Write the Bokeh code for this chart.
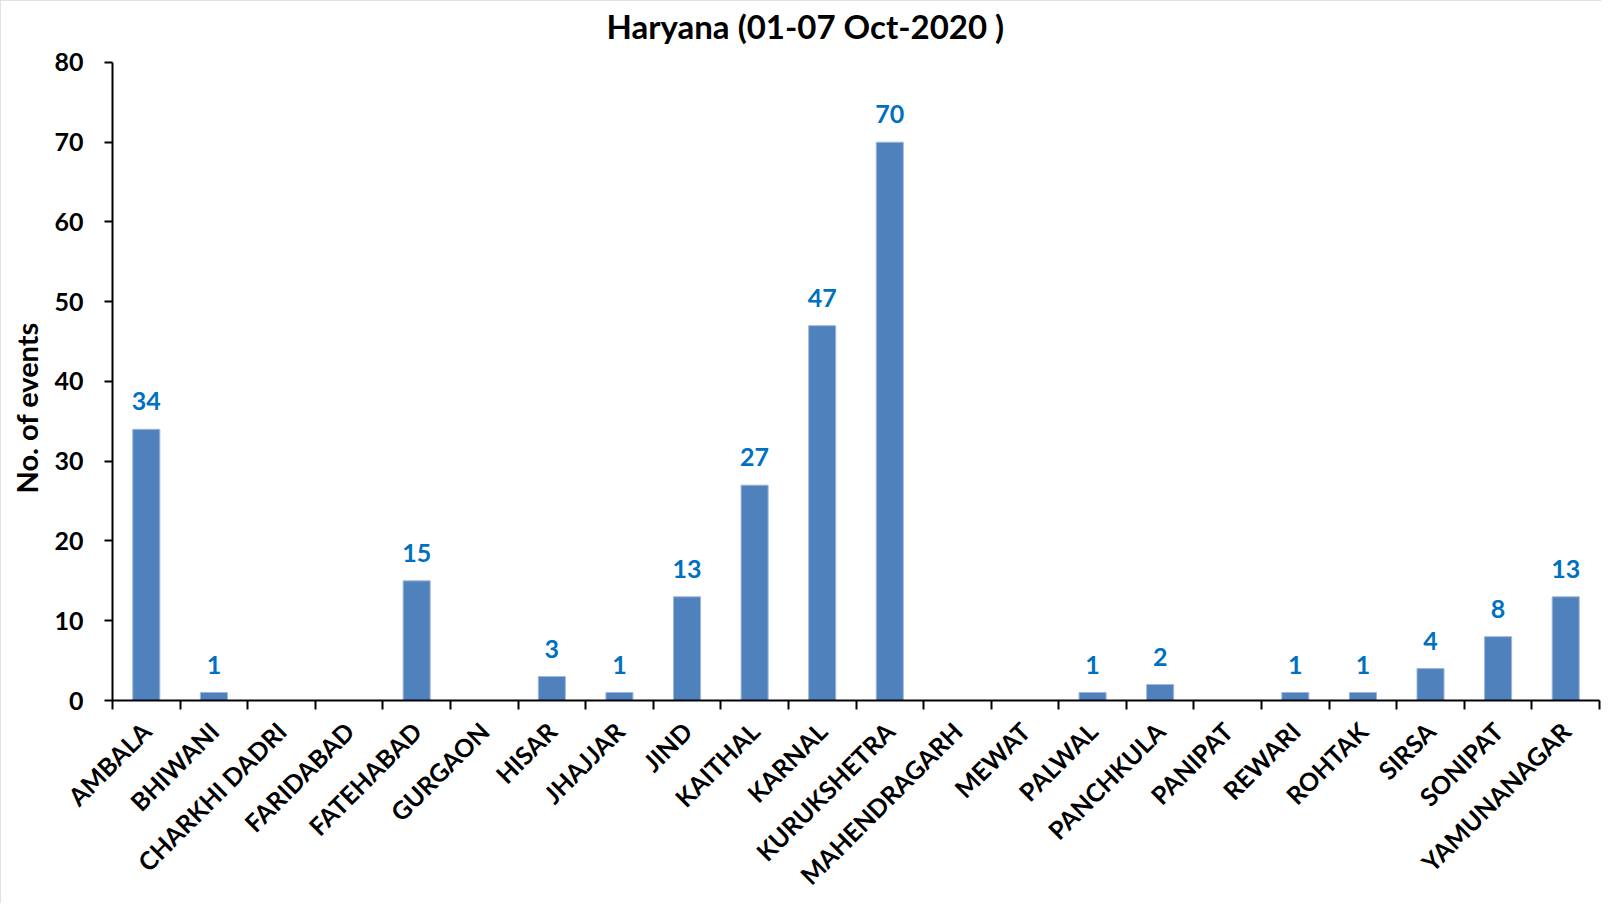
import math
from bokeh.plotting import figure
from bokeh.models import FixedTicker, ColumnDataSource, Range1d, Title
from bokeh.core.properties import value
from bokeh.embed import file_html
from bokeh.resources import INLINE

districts = ["AMBALA", "BHIWANI", "CHARKHI DADRI", "FARIDABAD", "FATEHABAD", "GURGAON",
             "HISAR", "JHAJJAR", "JIND", "KAITHAL", "KARNAL", "KURUKSHETRA", "MAHENDRAGARH",
             "MEWAT", "PALWAL", "PANCHKULA", "PANIPAT", "REWARI", "ROHTAK", "SIRSA",
             "SONIPAT", "YAMUNANAGAR"]
events = [34, 1, 0, 0, 15, 0, 3, 1, 13, 27, 47, 70, 0, 0, 1, 2, 0, 1, 1, 4, 8, 13]
y_ticks = [0, 10, 20, 30, 40, 50, 60, 70, 80]
y_axis_max = 80
title_text = "Haryana (01-07 Oct-2020 )"
y_label = "No. of events"

FONT = "Lato"
idx = list(range(len(districts)))

# the frame extends above the 0-80 axis so that the chart title can sit inside it
Y_TOP = 87.52
TITLE_X = 9.75
TITLE_Y = 84.63

p = figure(width=1601, height=903, output_backend="svg", toolbar_location=None,
           x_range=Range1d(-0.5, len(districts) - 0.5), y_range=Range1d(0, Y_TOP),
           min_border_left=112, min_border_right=2, min_border_top=2, min_border_bottom=202)
p.title = None
p.styles = {"outline": "1px solid #d9d9d9", "outline-offset": "-1px"}
p.outline_line_color = None
p.grid.visible = False
p.background_fill_color = "white"
p.border_fill_color = "white"

src = ColumnDataSource(dict(x=idx, top=events))
p.vbar(x="x", top="top", width=0.4, bottom=0, source=src,
       fill_color="#4F81BD", line_color="#9DB6D9", line_width=1)

lab_x = [i for i, v in zip(idx, events) if v > 0]
lab_y = [v for v in events if v > 0]
lab_t = [str(v) for v in events if v > 0]
p.text(x=lab_x, y=lab_y, text=lab_t, y_offset=-28, text_align="center",
       text_baseline="alphabetic", text_font=value(FONT), text_font_style="bold",
       text_font_size="25px", text_color="#0070C0")

# chart title
p.text(x=[TITLE_X], y=[TITLE_Y], text=[title_text], text_align="center",
       text_baseline="alphabetic", text_font=value(FONT), text_font_style="bold",
       text_font_size="33px", text_color="black")

# x axis
xa = p.xaxis[0]
xa.ticker = FixedTicker(ticks=idx, minor_ticks=[i - 0.5 for i in range(len(districts) + 1)])
xa.major_label_overrides = {i: n for i, n in zip(idx, districts)}
xa.major_label_orientation = math.pi / 4
xa.major_tick_out = 0
xa.major_tick_in = 0
xa.minor_tick_out = 9
xa.minor_tick_in = 0
xa.minor_tick_line_color = "black"
xa.minor_tick_line_width = 2
xa.axis_line_color = "black"
xa.axis_line_width = 2
xa.major_label_text_font = FONT
xa.major_label_text_font_style = "bold"
xa.major_label_text_font_size = "25px"
xa.major_label_text_color = "black"
xa.major_label_standoff = 17

# y axis
ya = p.yaxis[0]
ya.ticker = FixedTicker(ticks=y_ticks)
ya.bounds = (0, y_axis_max)
ya.major_tick_out = 8
ya.major_tick_in = 0
ya.minor_tick_line_color = None
ya.major_tick_line_color = "black"
ya.major_tick_line_width = 2
ya.axis_line_color = "black"
ya.axis_line_width = 2
ya.major_label_text_font = FONT
ya.major_label_text_font_style = "bold"
ya.major_label_text_font_size = "25px"
ya.major_label_text_color = "black"
ya.major_label_standoff = 21

# y axis title, placed left of the axis
p.add_layout(Title(text=y_label, align="left", offset=207, vertical_align="top",
                   standoff=12, text_font=FONT, text_font_style="bold",
                   text_font_size="29px", text_color="black"), "left")

open("out.html", "w").write(file_html(p, INLINE))
